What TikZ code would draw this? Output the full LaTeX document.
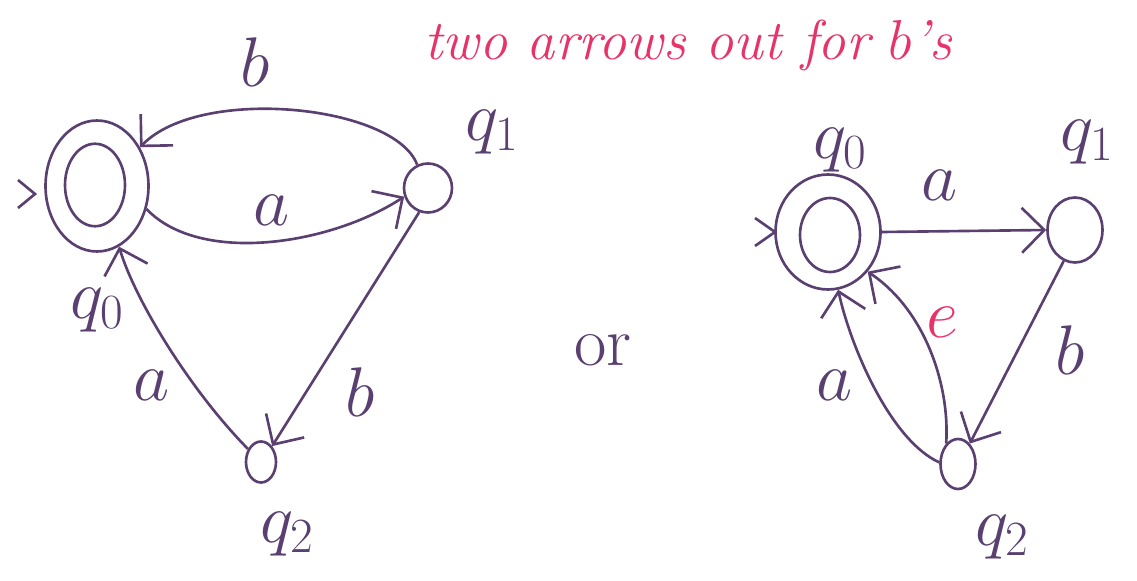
\RequirePackage{fix-cm}
\documentclass[tikz,border=0pt]{standalone}
\usetikzlibrary{shapes.geometric,arrows.meta}
\definecolor{ink}{HTML}{5A4070}
\definecolor{pink}{HTML}{E8336A}
\begin{document}
\begin{tikzpicture}[x=0.02cm,y=-0.02cm,
  st/.style={draw=ink,ellipse,line width=1.5pt,inner sep=0pt},
  edge/.style={draw=ink,line width=1.5pt,-{Straight Barb[length=4.5mm,width=9mm,line width=1.5pt]}},
  lbl/.style={text=ink,font=\fontsize{40}{44}\selectfont,inner sep=0pt},
  note/.style={text=pink,font=\fontsize{32}{36}\selectfont\itshape,inner sep=0pt}]
\useasboundingbox (0,0) rectangle (1137,581);
% ---------- left automaton ----------
\node[st,minimum width=2.06cm,minimum height=2.62cm] (q0L) at (97,186) {};
\node[st,minimum width=1.2cm,minimum height=1.65cm] (q0Li) at (95,185) {};
\node[st,minimum width=0.96cm,minimum height=0.98cm] (q1L) at (428,188) {};
\node[st,minimum width=0.6cm,minimum height=0.82cm] (q2L) at (261,462) {};
\coordinate (iL) at (35,194);
\draw[ink,line width=1.5pt] (iL) ++(-17,-14) -- (iL) -- ++(-17,14);
\draw[edge] (q1L.115) .. controls (395,105) and (200,85) .. (q0L.42);
\draw[edge] (q0L.-25) .. controls (200,265) and (330,245) .. (q1L.200);
\draw[edge] (q2L.135) .. controls (190,390) and (135,300) .. (q0L.-70);
\draw[edge] (q1L.250) -- (q2L.55);
\node[lbl] (lb1) at (255,62) {$b$};
\node[lbl] (lq1) at (492,132) {$q_1$};
\node[lbl] (la1) at (272,210) {$a$};
\node[lbl] (lq0) at (97,310) {$q_0$};
\node[lbl] (la2) at (152,385) {$a$};
\node[lbl] (lb2) at (360,392) {$b$};
\node[lbl] (lq2) at (287,534) {$q_2$};
% ---------- middle ----------
\node[lbl] (or) at (603,350) {or};
\node[note] (title) at (688,45) {two arrows out for $b$'s};
% ---------- right automaton ----------
\node[st,minimum width=2.1cm,minimum height=2.3cm] (q0R) at (828,232) {};
\node[st,minimum width=1.2cm,minimum height=1.48cm] (q0Ri) at (830,235) {};
\node[st,minimum width=1.1cm,minimum height=1.3cm] (q1R) at (1075,230) {};
\node[st,minimum width=0.7cm,minimum height=1.0cm] (q2R) at (958,464) {};
\coordinate (iR) at (775,232);
\draw[ink,line width=1.5pt] (iR) ++(-20,-14) -- (iR) -- ++(-20,14);
\draw[edge] (q0R.east) -- (q1R.west);
\draw[edge] (q2R.175) .. controls (890,440) and (850,345) .. (q0R.-80);
\draw[edge] (q2R.120) .. controls (950,385) and (925,310) .. (q0R.-45);
\draw[edge] (q1R.250) -- (q2R.60);
\node[lbl] (rq0) at (840,150) {$q_0$};
\node[lbl] (rq1) at (1087,142) {$q_1$};
\node[lbl] (ra1) at (940,185) {$a$};
\node[lbl,text=pink] (re) at (942,322) {$e$};
\node[lbl] (rb) at (1070,350) {$b$};
\node[lbl] (ra2) at (835,385) {$a$};
\node[lbl] (rq2) at (1002,537) {$q_2$};
\end{tikzpicture}
\end{document}
